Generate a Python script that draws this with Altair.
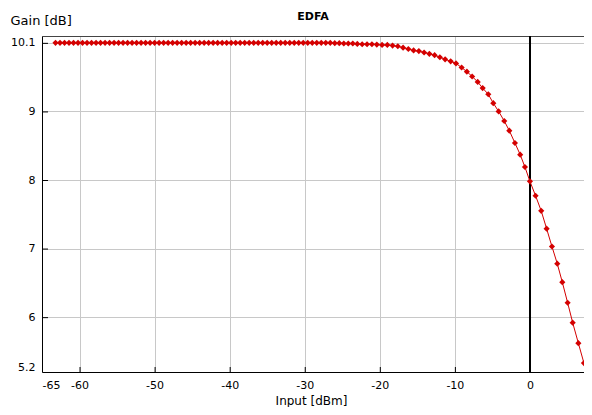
import altair as alt
import pandas as pd

# Input power [dBm] of each sample
input_dbm = [
    -63.2, -62.6, -62.0, -61.4, -60.8, -60.2, -59.6, -59.0, -58.4, -57.8,
    -57.2, -56.6, -56.0, -55.4, -54.8, -54.2, -53.6, -53.0, -52.4, -51.8,
    -51.2, -50.6, -50.0, -49.4, -48.8, -48.2, -47.6, -47.0, -46.4, -45.8,
    -45.2, -44.6, -44.0, -43.4, -42.8, -42.2, -41.6, -41.0, -40.4, -39.8,
    -39.2, -38.6, -38.0, -37.4, -36.8, -36.2, -35.6, -35.0, -34.4, -33.8,
    -33.2, -32.6, -32.0, -31.4, -30.8, -30.2, -29.6, -29.0, -28.4, -27.8,
    -27.2, -26.6, -26.0, -25.4, -24.8,
    -24.2, -23.6, -23.0, -22.35, -21.7, -21.05, -20.4, -19.7, -19.0, -18.3,
    -17.6, -16.9, -16.2, -15.5, -14.8, -14.1, -13.4, -12.7, -12.0, -11.3,
    -10.56,
    -9.85, -9.1, -8.4, -7.7, -6.96, -6.30, -5.55, -4.88, -4.17, -3.42,
    -2.75, -2.0, -1.3, -0.67, 0.0, 0.75, 1.5, 2.22, 2.93, 3.64,
    4.31, 5.02, 5.69, 6.45, 7.19,
]

# Gain [dB] of each sample
gain_db = [
    10.0, 10.0, 10.0, 10.0, 10.0, 10.0, 10.0, 10.0, 10.0, 10.0,
    10.0, 10.0, 10.0, 10.0, 10.0, 10.0, 10.0, 10.0, 10.0, 10.0,
    10.0, 10.0, 10.0, 10.0, 10.0, 10.0, 10.0, 10.0, 10.0, 10.0,
    10.0, 10.0, 10.0, 10.0, 10.0, 10.0, 10.0, 10.0, 10.0, 10.0,
    10.0, 10.0, 10.0, 10.0, 10.0, 10.0, 10.0, 10.0, 10.0, 10.0,
    10.0, 10.0, 10.0, 10.0, 10.0, 10.0, 10.0, 10.0, 10.0, 10.0,
    10.0, 10.0, 9.995, 9.995, 9.99,
    9.99, 9.99, 9.985, 9.98, 9.98, 9.98, 9.975, 9.97, 9.97, 9.96,
    9.95, 9.93, 9.91, 9.89, 9.88, 9.86, 9.84, 9.82, 9.79, 9.76,
    9.73,
    9.70, 9.64, 9.58, 9.51, 9.43, 9.34, 9.25, 9.12, 9.00, 8.86,
    8.72, 8.54, 8.37, 8.19, 7.98, 7.77, 7.55, 7.29, 7.03, 6.78,
    6.51, 6.21, 5.92, 5.62, 5.33,
]

chart_title = ["EDFA"]
x_label_values = [-65, -60, -50, -40, -30, -20, -10, 0]
y_label_values = [5.2, 6, 7, 8, 9, 10, 10.1]
x_tick_values = [-60, -50, -40, -30, -20, -10, 0]
y_tick_values = [6, 7, 8, 9, 10]

X_DOMAIN = [-65, 7.2]
Y_DOMAIN = [5.2, 10.1]
FONT = "DejaVu Sans"
RED = "#d40000"
GRID = "#c8c8c8"
W, H = 542, 336

df = pd.DataFrame({"Input": input_dbm, "Gain": gain_db})
xt = pd.DataFrame({"t": x_tick_values})
yt = pd.DataFrame({"t": y_tick_values})
tt = pd.DataFrame({"title": chart_title})

xs = alt.Scale(domain=X_DOMAIN, nice=False, zero=False)
ys = alt.Scale(domain=Y_DOMAIN, nice=False, zero=False)

x_axis = alt.Axis(
    values=x_label_values, labelExpr="'' + datum.value",
    grid=True, gridColor=GRID, gridWidth=1, ticks=False,
    domainColor="black", domainWidth=1,
    labelFont=FONT, labelFontSize=11, labelColor="black",
    labelPadding=7, labelFlush=True,
    title="Input [dBm]", titleFont=FONT, titleFontSize=12,
    titleFontWeight="normal", titleColor="black",
    titleX=269, titleY=23, titleBaseline="top", titleAlign="center",
)
y_axis = alt.Axis(
    values=y_label_values,
    labelExpr="datum.value == 10 ? '' : '' + datum.value",
    grid=True, gridColor=GRID, gridWidth=1, ticks=False,
    domainColor="black", domainWidth=1,
    labelFont=FONT, labelFontSize=11, labelColor="black",
    labelPadding=7, labelFlush=True,
    title="Gain [dB]", titleFont=FONT, titleFontSize=13,
    titleFontWeight="normal", titleColor="black", titleAngle=0,
    titleX=-32, titleY=-12, titleAlign="left", titleBaseline="alphabetic",
)

X = lambda f, **k: alt.X(f, scale=xs, axis=x_axis, **k)
Y = lambda f, **k: alt.Y(f, scale=ys, axis=y_axis, **k)

base = alt.Chart(df)
line = base.mark_line(color=RED, strokeWidth=1).encode(
    x=X("Input:Q"), y=Y("Gain:Q"),
)
pts = base.mark_point(shape="diamond", filled=True, size=38, color=RED, opacity=1).encode(
    x=X("Input:Q"), y=Y("Gain:Q"),
)
zero_rule = alt.Chart(df).mark_rule(color="black", strokeWidth=1, xOffset=0.5).encode(
    x=alt.X(datum=0, type="quantitative", scale=xs, axis=x_axis),
)
top_rule = alt.Chart(df).mark_rule(color="#444444", strokeWidth=1, yOffset=0.5).encode(
    y=alt.Y(datum=10.1, type="quantitative", scale=ys, axis=y_axis),
)
x_ticks = alt.Chart(xt).mark_rule(color="black", strokeWidth=1, xOffset=0.5).encode(
    x=X("t:Q"),
    y=alt.value(H), y2=alt.value(H - 5),
)
y_ticks = alt.Chart(yt).mark_rule(color="black", strokeWidth=1, yOffset=0.5).encode(
    y=Y("t:Q"),
    x=alt.value(0), x2=alt.value(6),
)
title_text = alt.Chart(tt).mark_text(
    font=FONT, fontSize=11, fontWeight="bold", color="black",
    align="center", baseline="middle",
).encode(text="title:N", x=alt.value(271), y=alt.value(-19))

chart = alt.layer(top_rule, zero_rule, x_ticks, y_ticks, line, pts, title_text).properties(
    width=W, height=H,
    autosize=alt.AutoSizeParams(type="none"),
    padding={"left": 34, "top": 28, "right": 0, "bottom": 35},
    background="white",
).configure_view(stroke=None)

chart.save("out.html", embed_options={"renderer": "svg", "actions": False})
